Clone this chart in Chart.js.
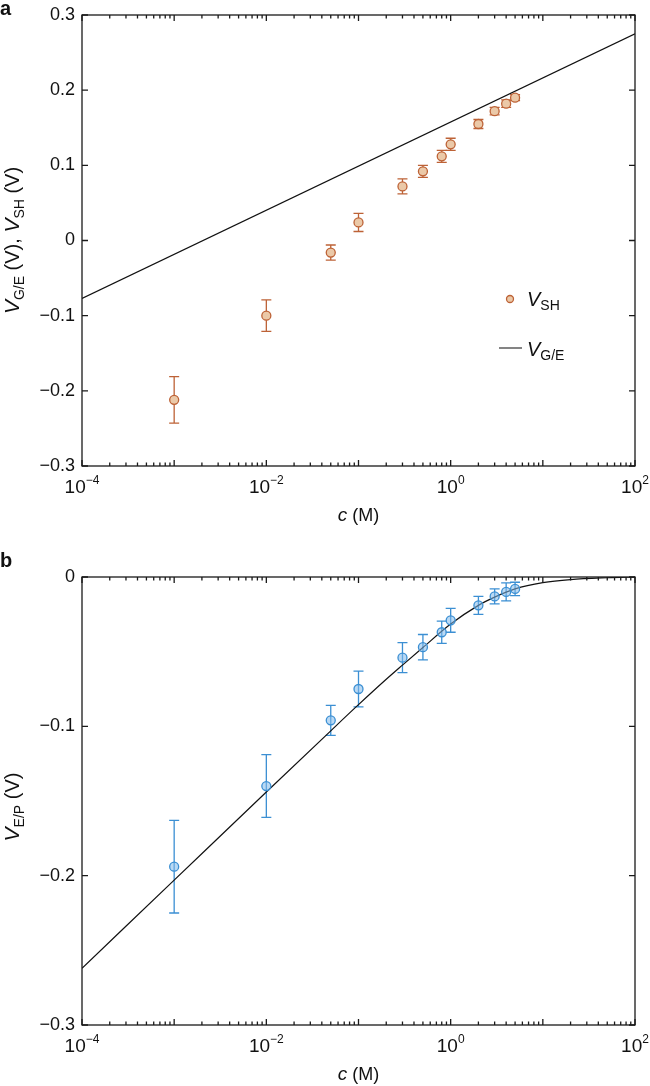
<!DOCTYPE html>
<html>
<head>
<meta charset="utf-8">
<script src="https://cdn.jsdelivr.net/npm/chart.js@4.4.1/dist/chart.umd.min.js"></script>
<style>
  html, body { margin: 0; padding: 0; background: #fff; }
  #wrap { position: relative; width: 650px; height: 1086px; }
  canvas { position: absolute; left: 0; }
  #chartA { top: 0; }
  #chartB { top: 545px; }
</style>
</head>
<body>
<div id="wrap">
  <canvas id="chartA" width="650" height="545"></canvas>
  <canvas id="chartB" width="650" height="541"></canvas>
</div>
<script>
// concentrations (M) of the measured points
const conc = [1e-3, 1e-2, 0.05, 0.1, 0.3, 0.5, 0.8, 1, 2, 3, 4, 5];

// panel a: V_SH (V) with error bars, and the V_G/E line
const vSH    = [-0.212, -0.100, -0.016, 0.024, 0.072, 0.092, 0.112, 0.128, 0.155, 0.172, 0.182, 0.190];
const vSHErr = [0.031, 0.021, 0.010, 0.012, 0.010, 0.008, 0.008, 0.008, 0.006, 0.005, 0.005, 0.004];
const geConc = [1e-4, 100];
const vGE    = [-0.077, 0.275];

// panel b: V_E/P (V) with error bars, and the fitted curve
const vEP    = [-0.194, -0.140, -0.096, -0.075, -0.054, -0.047, -0.037, -0.029, -0.019, -0.013, -0.010, -0.008];
const vEPErr = [0.031, 0.021, 0.010, 0.012, 0.010, 0.0085, 0.0075, 0.008, 0.006, 0.005, 0.006, 0.0045];
const fitConc = [1e-4, 1e-3, 1e-2, 0.05, 0.1, 0.2, 0.3, 0.5, 1, 2, 3, 5, 10, 20, 50, 100];
const fitV    = [-0.262, -0.203, -0.144, -0.103, -0.0855, -0.0685, -0.059, -0.0472, -0.0315, -0.019, -0.0135, -0.008, -0.0038, -0.0017, -0.0005, 0];

// tick labels
const xTickVals = [1e-4, 1e-2, 1, 100];
const xTickExp  = ['\u22124', '\u22122', '0', '2'];
const yTicksA   = [0.3, 0.2, 0.1, 0, -0.1, -0.2, -0.3];
const yLabelsA  = ['0.3', '0.2', '0.1', '0', '\u22120.1', '\u22120.2', '\u22120.3'];
const yTicksB   = [0, -0.1, -0.2, -0.3];
const yLabelsB  = ['0', '\u22120.1', '\u22120.2', '\u22120.3'];

const FF = '"Liberation Sans", Arial, Helvetica, sans-serif';
const orange = '#BD6236', orangeFill = '#EBC9A8';
const blue = '#3B8FD3', blueFill = 'rgba(130,185,235,0.55)';

function richWidth(ctx, parts) {
    let w = 0;
    parts.forEach(p => { ctx.font = p.font; w += ctx.measureText(p.t).width; });
    return w;
}

function drawRich(ctx, parts, x, y, align) {
    const w = richWidth(ctx, parts);
    let cx = align === 'center' ? x - w / 2 : (align === 'right' ? x - w : x);
    ctx.textAlign = 'left';
    ctx.textBaseline = 'alphabetic';
    parts.forEach(p => {
        ctx.font = p.font;
        ctx.fillText(p.t, cx, y + (p.dy || 0));
        cx += ctx.measureText(p.t).width;
    });
}

// frame, inward ticks, labels, titles, error bars
function makePlugin(cfg) {
    return {
        id: 'frame' + cfg.letter,
        beforeDatasetsDraw(chart) {
            const ctx = chart.ctx, xs = chart.scales.x, ys = chart.scales.y;
            ctx.save();
            ctx.strokeStyle = cfg.errColor;
            ctx.lineWidth = 1.3;
            cfg.errX.forEach((c, i) => {
                const px = xs.getPixelForValue(c);
                const top = ys.getPixelForValue(cfg.errY[i] + cfg.err[i]);
                const bot = ys.getPixelForValue(cfg.errY[i] - cfg.err[i]);
                ctx.beginPath();
                ctx.moveTo(px, top); ctx.lineTo(px, bot);
                ctx.moveTo(px - 5, top); ctx.lineTo(px + 5, top);
                ctx.moveTo(px - 5, bot); ctx.lineTo(px + 5, bot);
                ctx.stroke();
            });
            ctx.restore();
        },
        afterDraw(chart) {
            const ctx = chart.ctx, xs = chart.scales.x, ys = chart.scales.y;
            const a = chart.chartArea;
            ctx.save();
            ctx.strokeStyle = '#1a1a1a';
            ctx.fillStyle = '#111';
            ctx.lineWidth = 1.3;
            ctx.strokeRect(a.left, a.top, a.right - a.left, a.bottom - a.top);

            // x ticks: majors each decade, minors 2..9
            ctx.beginPath();
            for (let e = -4; e <= 2; e++) {
                for (let m = 1; m <= 9; m++) {
                    const v = m * Math.pow(10, e);
                    if (v > 100.0001) break;
                    const px = xs.getPixelForValue(v);
                    const len = m === 1 ? 6 : 3.5;
                    ctx.moveTo(px, a.bottom); ctx.lineTo(px, a.bottom - len);
                    ctx.moveTo(px, a.top); ctx.lineTo(px, a.top + len);
                }
            }
            // y ticks
            cfg.yTicks.forEach(v => {
                const py = ys.getPixelForValue(v);
                ctx.moveTo(a.left, py); ctx.lineTo(a.left + 6, py);
                ctx.moveTo(a.right, py); ctx.lineTo(a.right - 6, py);
            });
            ctx.stroke();

            // y tick labels
            ctx.font = '18px ' + FF;
            ctx.textAlign = 'right';
            ctx.textBaseline = 'middle';
            cfg.yTicks.forEach((v, i) => {
                ctx.fillText(cfg.yLabels[i], a.left - 7, ys.getPixelForValue(v));
            });

            // x tick labels with superscript exponents
            xTickVals.forEach((v, i) => {
                drawRich(ctx, [
                    { t: '10', font: '19px ' + FF },
                    { t: xTickExp[i], font: '12px ' + FF, dy: -9 }
                ], xs.getPixelForValue(v), a.bottom + 27, 'center');
            });

            // x title
            drawRich(ctx, [
                { t: 'c', font: 'italic 19px ' + FF },
                { t: ' (M)', font: '18px ' + FF }
            ], (a.left + a.right) / 2, a.bottom + 55, 'center');

            // y title, rotated
            ctx.save();
            ctx.translate(19, (a.top + a.bottom) / 2 + cfg.yTitleShift);
            ctx.rotate(-Math.PI / 2);
            drawRich(ctx, cfg.yTitle, 0, 0, 'center');
            ctx.restore();

            // panel letter
            ctx.font = 'bold 20px ' + FF;
            ctx.textAlign = 'left';
            ctx.textBaseline = 'alphabetic';
            ctx.fillText(cfg.letter, 0, cfg.letterY);

            if (cfg.legend) cfg.legend(ctx);
            ctx.restore();
        }
    };
}

const pts = (xs, ys) => xs.map((x, i) => ({ x: x, y: ys[i] }));

function baseOptions(padding, ymin, ymax) {
    return {
        responsive: false,
        animation: false,
        devicePixelRatio: 1,
        layout: { padding: padding },
        plugins: { legend: { display: false }, tooltip: { enabled: false } },
        scales: {
            x: { type: 'logarithmic', min: 1e-4, max: 100, display: false },
            y: { type: 'linear', min: ymin, max: ymax, display: false }
        }
    };
}

// Panel a
new Chart(document.getElementById('chartA'), {
    type: 'scatter',
    data: {
        datasets: [
            {
                label: 'V_SH',
                data: pts(conc, vSH),
                pointRadius: 4.5,
                pointBackgroundColor: orangeFill,
                pointBorderColor: orange,
                pointBorderWidth: 1.3,
                showLine: false,
            },
            {
                label: 'V_G/E',
                data: pts(geConc, vGE),
                showLine: true,
                borderColor: '#111',
                borderWidth: 1.2,
                pointRadius: 0,
            }
        ]
    },
    options: baseOptions({ left: 82, right: 15, top: 15, bottom: 79 }, -0.3, 0.3),
    plugins: [makePlugin({
        letter: 'a', letterY: 15,
        yTicks: yTicksA, yLabels: yLabelsA,
        errX: conc, errY: vSH, err: vSHErr, errColor: orange,
        yTitleShift: 0,
        yTitle: [
            { t: 'V', font: 'italic 21px ' + FF },
            { t: 'G/E', font: '14px ' + FF, dy: 5 },
            { t: ' (V), ', font: '20px ' + FF },
            { t: 'V', font: 'italic 21px ' + FF },
            { t: 'SH', font: '14px ' + FF, dy: 5 },
            { t: ' (V)', font: '20px ' + FF }
        ],
        legend(ctx) {
            ctx.beginPath();
            ctx.arc(510, 299, 3.5, 0, Math.PI * 2);
            ctx.fillStyle = orangeFill;
            ctx.fill();
            ctx.strokeStyle = orange;
            ctx.lineWidth = 1.3;
            ctx.stroke();
            ctx.beginPath();
            ctx.moveTo(499, 348); ctx.lineTo(522, 348);
            ctx.strokeStyle = '#333';
            ctx.lineWidth = 1.2;
            ctx.stroke();
            ctx.fillStyle = '#111';
            drawRich(ctx, [
                { t: 'V', font: 'italic 20px ' + FF },
                { t: 'SH', font: '14px ' + FF, dy: 4 }
            ], 527, 306, 'left');
            drawRich(ctx, [
                { t: 'V', font: 'italic 20px ' + FF },
                { t: 'G/E', font: '14px ' + FF, dy: 4 }
            ], 527, 356, 'left');
        }
    })]
});

// Panel b
new Chart(document.getElementById('chartB'), {
    type: 'scatter',
    data: {
        datasets: [
            {
                label: 'V_E/P',
                data: pts(conc, vEP),
                pointRadius: 4.5,
                pointBackgroundColor: blueFill,
                pointBorderColor: blue,
                pointBorderWidth: 1.3,
                showLine: false,
            },
            {
                label: 'fit',
                data: pts(fitConc, fitV),
                showLine: true,
                borderColor: '#111',
                borderWidth: 1.2,
                pointRadius: 0,
                cubicInterpolationMode: 'monotone',
            }
        ]
    },
    options: baseOptions({ left: 82, right: 15, top: 32, bottom: 61 }, -0.3, 0),
    plugins: [makePlugin({
        letter: 'b', letterY: 22,
        yTicks: yTicksB, yLabels: yLabelsB,
        errX: conc, errY: vEP, err: vEPErr, errColor: blue,
        yTitleShift: 6,
        yTitle: [
            { t: 'V', font: 'italic 21px ' + FF },
            { t: 'E/P', font: '14px ' + FF, dy: 5 },
            { t: ' (V)', font: '20px ' + FF }
        ]
    })]
});
</script>
</body>
</html>
